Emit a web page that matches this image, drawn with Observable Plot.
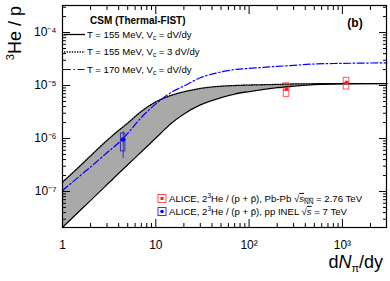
<!DOCTYPE html>
<html><head><meta charset="utf-8">
<script src="https://cdn.jsdelivr.net/npm/d3@7"></script>
<script src="https://cdn.jsdelivr.net/npm/@observablehq/plot@0.6"></script>
<style>
body{margin:0;background:#fff;}
#chart svg{display:block;}
</style></head><body><div id="chart"></div>
<script>
// ---- data ----
const xGrid      = [1, 1.5, 2, 3, 4, 5, 7, 10, 15, 20, 30, 50, 70, 100, 200, 300, 500, 1000, 2000, 3000];
const solidT155  = [2.1e-8, 4.2e-8, 6.8e-8, 1.35e-7, 2.2e-7, 3.2e-7, 5.6e-7, 1.02e-6, 2.0e-6, 2.9e-6, 4.3e-6, 5.9e-6, 6.9e-6, 7.7e-6, 9.1e-6, 9.7e-6, 1.04e-5, 1.08e-5, 1.09e-5, 1.09e-5];
const dottedT155 = [1.5e-7, 2.9e-7, 4.7e-7, 9.2e-7, 1.42e-6, 1.95e-6, 3.25e-6, 4.9e-6, 6.6e-6, 7.6e-6, 8.8e-6, 9.7e-6, 1.0e-5, 1.02e-5, 1.05e-5, 1.07e-5, 1.08e-5, 1.09e-5, 1.09e-5, 1.09e-5];
const blueT170   = [1.04e-7, 1.9e-7, 2.9e-7, 5.4e-7, 8.3e-7, 1.25e-6, 2.5e-6, 4.5e-6, 7.6e-6, 9.8e-6, 1.4e-5, 1.8e-5, 2.0e-5, 2.1e-5, 2.3e-5, 2.4e-5, 2.55e-5, 2.62e-5, 2.66e-5, 2.68e-5];

const pbpbX     = [252, 1107];
const pbpbY     = [8.6e-6, 1.14e-5];
const pbpbBoxHi = [1.10e-5, 1.40e-5];
const pbpbBoxMid= [8.05e-6, 1.09e-5];
const pbpbBoxLo = [6.1e-6, 8.4e-6];

const ppX      = [4.47];
const ppY      = [9.6e-7];
const ppSysHi  = [1.24e-6];
const ppSysLo  = [5.7e-7];
const ppErrHi  = [1.36e-6];
const ppErrLo  = [4.2e-7];

const xMajor = [1, 10, 100, 1000];
const xTickLabels = ["1", "10", "10²", "10³"];
const yMajor = [1e-7, 1e-6, 1e-5, 1e-4];
const yTickLabels = ["10⁻⁷", "10⁻⁶", "10⁻⁵", "10⁻⁴"];

const modelTitle = "CSM (Thermal-FIST)";
const modelLabels = [["T = 155 MeV, V", "c", " = dV/dy"], ["T = 155 MeV, V", "c", " = 3 dV/dy"], ["T = 170 MeV, V", "c", " = dV/dy"]];
const panelLabel = "(b)";

// ---- build ----
const xDomain = [1, 2970];
const yDomain = [2.09e-8, 3.24e-4];
const xMinor = [];
for (let k = 0; k <= 3; k++) for (let d = 2; d <= 9; d++) { const v = d * 10 ** k; if (v <= xDomain[1]) xMinor.push(v); }
const yMinor = [];
for (let k = -8; k <= -4; k++) for (let d = 2; d <= 9; d++) { const v = d * 10 ** k; if (v >= yDomain[0] && v <= yDomain[1]) yMinor.push(v); }

const curves = xGrid.map((x, i) => ({x, solid: solidT155[i], dotted: dottedT155[i], blue: blueT170[i]}));
const pbpb = pbpbX.map((x, i) => ({x, y: pbpbY[i], hi: pbpbBoxHi[i], mid: pbpbBoxMid[i], lo: pbpbBoxLo[i]}));
const pp = ppX.map((x, i) => ({x, y: ppY[i], sHi: ppSysHi[i], sLo: ppSysLo[i], eHi: ppErrHi[i], eLo: ppErrLo[i]}));

const FONT = '"Liberation Sans", Arimo, Arial, sans-serif';
const RED = "#ff2020", BLUE = "#0000ff";

const chart = Plot.plot({
  width: 390, height: 281,
  marginLeft: 62, marginRight: 4, marginTop: 5, marginBottom: 54,
  style: {fontFamily: FONT, fontSize: "12px", background: "white", color: "black"},
  x: {type: "log", domain: xDomain},
  y: {type: "log", domain: yDomain},
  marks: [
    Plot.areaY(curves, {x: "x", y1: "solid", y2: "dotted", fill: "#a9a9a9", curve: "monotone-x"}),
    Plot.line(curves, {x: "x", y: "solid", stroke: "black", strokeWidth: 1.3, curve: "monotone-x"}),
    Plot.line(curves, {x: "x", y: "dotted", stroke: "black", strokeWidth: 1.3, strokeDasharray: "1.3,1.3", curve: "monotone-x"}),
    Plot.line(curves, {x: "x", y: "blue", stroke: BLUE, strokeWidth: 1.2, strokeDasharray: "7,2.5,1.5,2.5", curve: "monotone-x"}),
    // pp point
    Plot.ruleX(pp, {x: "x", y1: "eLo", y2: "eHi", stroke: "#3030c0", strokeWidth: 1}),
    Plot.rect(pp, {x1: "x", x2: "x", y1: "sLo", y2: "sHi", insetLeft: -2.2, insetRight: -2.2, fill: "none", stroke: "#3535a8", strokeWidth: 1}),
    Plot.dot(pp, {x: "x", y: "y", r: 2.3, fill: BLUE, stroke: "none"}),
    // Pb-Pb points
    Plot.rect(pbpb, {x1: "x", x2: "x", y1: "lo", y2: "mid", insetLeft: -2.8, insetRight: -2.8, fill: "none", stroke: RED, strokeOpacity: 0.75, strokeWidth: 1}),
    Plot.rect(pbpb, {x1: "x", x2: "x", y1: "mid", y2: "hi", insetLeft: -2.8, insetRight: -2.8, fill: "none", stroke: RED, strokeOpacity: 0.75, strokeWidth: 1}),
    Plot.dot(pbpb, {x: "x", y: "y", symbol: "square", r: 2, fill: RED, stroke: "none"}),
    // ticks (inward, all four sides)
    Plot.axisX(xMajor, {anchor: "bottom", tickSize: -8, fill: "none", label: null}),
    Plot.axisX(xMinor, {anchor: "bottom", tickSize: -4, fill: "none", label: null}),
    Plot.axisX(xMajor, {anchor: "top", tickSize: -8, fill: "none", label: null}),
    Plot.axisX(xMinor, {anchor: "top", tickSize: -4, fill: "none", label: null}),
    Plot.axisY(yMajor, {anchor: "left", tickSize: -8, fill: "none", label: null}),
    Plot.axisY(yMinor, {anchor: "left", tickSize: -4, fill: "none", label: null}),
    Plot.axisY(yMajor, {anchor: "right", tickSize: -8, fill: "none", label: null}),
    Plot.axisY(yMinor, {anchor: "right", tickSize: -4, fill: "none", label: null}),
    // tick labels
    Plot.axisX(xMajor, {anchor: "bottom", tickSize: 0, tickPadding: 13, label: null, fontSize: 12,
      tickFormat: d => xTickLabels[xMajor.indexOf(d)]}),
    Plot.axisY(yMajor, {anchor: "left", tickSize: 0, tickPadding: 6, label: null, fontSize: 12,
      tickFormat: d => yTickLabels[yMajor.indexOf(d)]}),
    Plot.frame({stroke: "black", strokeWidth: 1.2})
  ]
});
document.getElementById("chart").appendChild(chart);

// ---- annotations (titles, legend) ----
const svg = d3.select(chart);
const g = svg.append("g").attr("font-family", FONT).attr("fill", "black").attr("text-anchor", "start");

// x title
const xt = g.append("text").attr("x", 383).attr("y", 268).attr("text-anchor", "end").attr("font-size", 18);
xt.append("tspan").text("d");
xt.append("tspan").attr("font-style", "italic").text("N");
xt.append("tspan").attr("font-size", 11).attr("dy", 4).text("π");
xt.append("tspan").attr("dy", -4).text("/dy");

// y title
const yt = g.append("text").attr("transform", "translate(21,6) rotate(-90)").attr("text-anchor", "end").attr("font-size", 18);
yt.append("tspan").attr("font-size", 11).attr("dy", -7).text("3");
yt.append("tspan").attr("dy", 7).text("He / p");

// panel label
g.append("text").attr("x", 355).attr("y", 27).attr("text-anchor", "middle").attr("font-size", 12).attr("font-weight", "bold").text(panelLabel);

// model legend
g.append("text").attr("x", 90).attr("y", 23.5).attr("font-size", 10).attr("font-weight", "bold").text(modelTitle);
const swatchStyles = [
  {stroke: "black", dash: null, w: 1.3},
  {stroke: "black", dash: "1.3,1.3", w: 1.3},
  {stroke: BLUE, dash: "7,2.5,1.5,2.5", w: 1.2}
];
const rowY = [34.5, 52, 69.5];
modelLabels.forEach((parts, i) => {
  g.append("line").attr("x1", 64).attr("x2", 85).attr("y1", rowY[i]).attr("y2", rowY[i])
    .attr("stroke", swatchStyles[i].stroke).attr("stroke-width", swatchStyles[i].w)
    .attr("stroke-dasharray", swatchStyles[i].dash);
  const t = g.append("text").attr("x", 87).attr("y", rowY[i] + 3.4).attr("font-size", 9.6);
  t.append("tspan").text(parts[0]);
  t.append("tspan").attr("font-size", 6.5).attr("dy", 2).text(parts[1]);
  t.append("tspan").attr("dy", -2).text(parts[2]);
});

// data legend
const dataRows = [
  {y: 198.5, color: RED, marker: "square", pre: "ALICE, 2", post: "He / (p + p̄), Pb-Pb ", sub: "NN", tail: " = 2.76 TeV"},
  {y: 211.5, color: BLUE, marker: "circle", pre: "ALICE, 2", post: "He / (p + p̄), pp INEL ", sub: "", tail: " = 7 TeV"}
];
dataRows.forEach(r => {
  g.append("rect").attr("x", 158).attr("y", r.y - 4).attr("width", 8).attr("height", 8)
    .attr("fill", "white").attr("stroke", r.color).attr("stroke-opacity", 0.8).attr("stroke-width", 1);
  if (r.marker === "square") g.append("rect").attr("x", 160.5).attr("y", r.y - 1.5).attr("width", 3).attr("height", 3).attr("fill", r.color);
  else g.append("circle").attr("cx", 162).attr("cy", r.y).attr("r", 1.8).attr("fill", r.color);
  const t = g.append("text").attr("x", 169).attr("y", r.y + 3.4).attr("font-size", 9.6);
  t.append("tspan").text(r.pre);
  t.append("tspan").attr("font-size", 6.5).attr("dy", -3.5).text("3");
  t.append("tspan").attr("dy", 3.5).text(r.post + "√");
  t.append("tspan").attr("font-style", "italic").attr("text-decoration", "overline").text("s");
  if (r.sub) {
    t.append("tspan").attr("font-size", 6.5).attr("dy", 2).attr("text-decoration", "overline").text(r.sub);
    t.append("tspan").attr("dy", -2).text(r.tail);
  } else {
    t.append("tspan").text(r.tail);
  }
});
</script>
</body></html>
